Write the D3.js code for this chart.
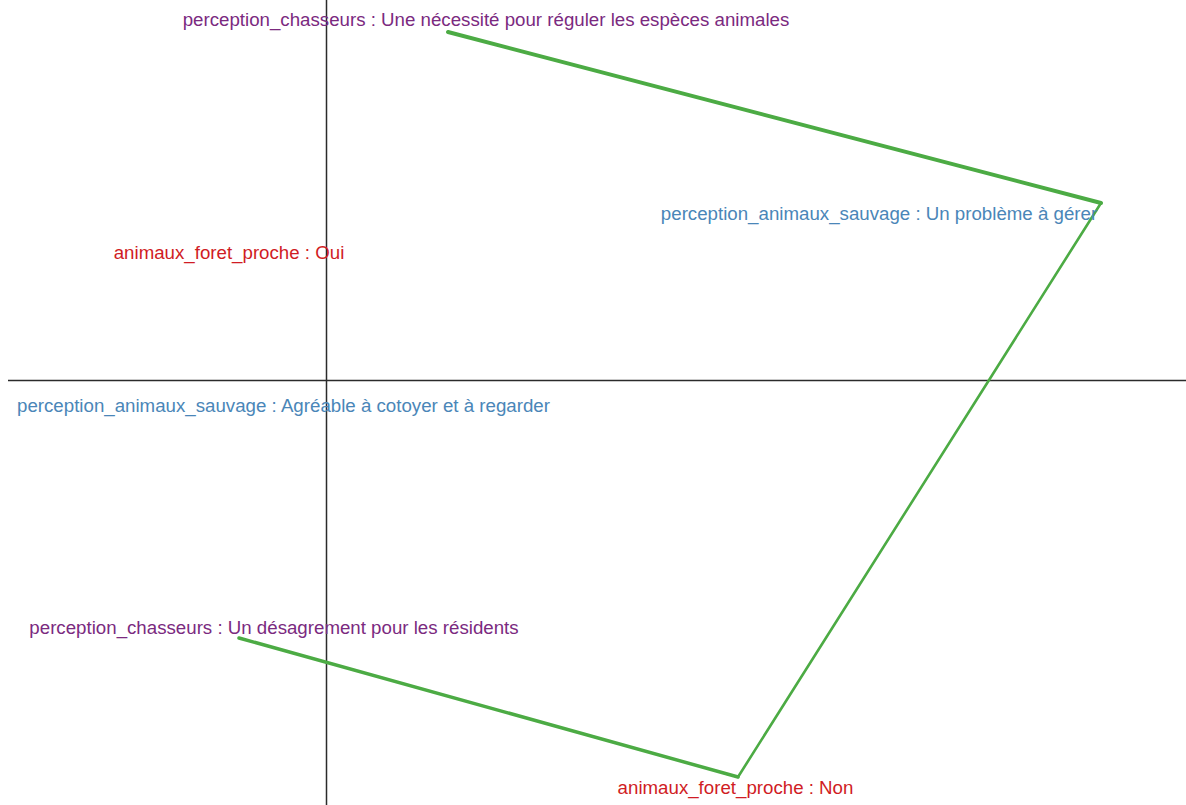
<!DOCTYPE html>
<html>
<head>
<meta charset="utf-8">
<script src="https://cdn.jsdelivr.net/npm/d3@7"></script>
<style>
  html, body { margin: 0; padding: 0; background: #fff; }
  svg { display: block; }
  text { font-family: "Liberation Sans", Arial, sans-serif; font-size: 18.7px; }
</style>
</head>
<body>
<svg id="chart" width="1186" height="805"></svg>
<script>
// Category labels (variable : modality) and their coordinates on the factor map
const labelTexts = [
  "perception_chasseurs : Une nécessité pour réguler les espèces animales",
  "perception_animaux_sauvage : Un problème à gérer",
  "animaux_foret_proche : Oui",
  "perception_animaux_sauvage : Agréable à cotoyer et à regarder",
  "perception_chasseurs : Un désagrement pour les résidents",
  "animaux_foret_proche : Non"
];
const labelVars = [
  "perception_chasseurs",
  "perception_animaux_sauvage",
  "animaux_foret_proche",
  "perception_animaux_sauvage",
  "perception_chasseurs",
  "animaux_foret_proche"
];
const labelX = [0.40, 1.3825, -0.2425, -0.10625, -0.13, 1.02375];
const labelY = [0.9025, 0.4175, 0.32, -0.0625, -0.6175, -1.0175];

// Path (green) linking modalities
const pathX = [0.305, 1.9375, 1.03, -0.2175];
const pathY = [0.87, 0.4425, -0.9925, -0.645];
const pathWeight = [4, 2.6, 3.5, 3.5];

const varColors = {
  "perception_chasseurs": "#7b2a7f",
  "perception_animaux_sauvage": "#4a86b8",
  "animaux_foret_proche": "#d01c24"
};

const svg = d3.select("#chart");

const x = d3.scaleLinear().domain([-0.795, 2.15]).range([8, 1186]);
const y = d3.scaleLinear().domain([-1.0625, 0.95]).range([805, 0]);

// Axes through origin
svg.append("line")
  .attr("x1", x(-0.795)).attr("x2", x(2.15))
  .attr("y1", y(0) + 0.5).attr("y2", y(0) + 0.5)
  .attr("stroke", "#2b2b2b").attr("stroke-width", 1.5);
svg.append("line")
  .attr("x1", x(0) + 0.5).attr("x2", x(0) + 0.5)
  .attr("y1", y(0.95)).attr("y2", y(-1.0625))
  .attr("stroke", "#2b2b2b").attr("stroke-width", 1.5);

// Green path segments
const segs = d3.range(pathX.length - 1).map(i => ({
  x1: pathX[i], y1: pathY[i], x2: pathX[i + 1], y2: pathY[i + 1], w: pathWeight[i]
}));
svg.append("g").selectAll("line").data(segs).join("line")
  .attr("x1", d => x(d.x1)).attr("y1", d => y(d.y1))
  .attr("x2", d => x(d.x2)).attr("y2", d => y(d.y2))
  .attr("stroke", "#4cab44")
  .attr("stroke-width", d => d.w)
  .attr("stroke-linecap", "round");

// Labels
const labels = labelTexts.map((t, i) => ({ t, v: labelVars[i], x: labelX[i], y: labelY[i] }));
svg.append("g").selectAll("text").data(labels).join("text")
  .attr("x", d => x(d.x))
  .attr("y", d => y(d.y))
  .attr("text-anchor", "middle")
  .attr("dominant-baseline", "central")
  .attr("fill", d => varColors[d.v])
  .text(d => d.t);
</script>
</body>
</html>
